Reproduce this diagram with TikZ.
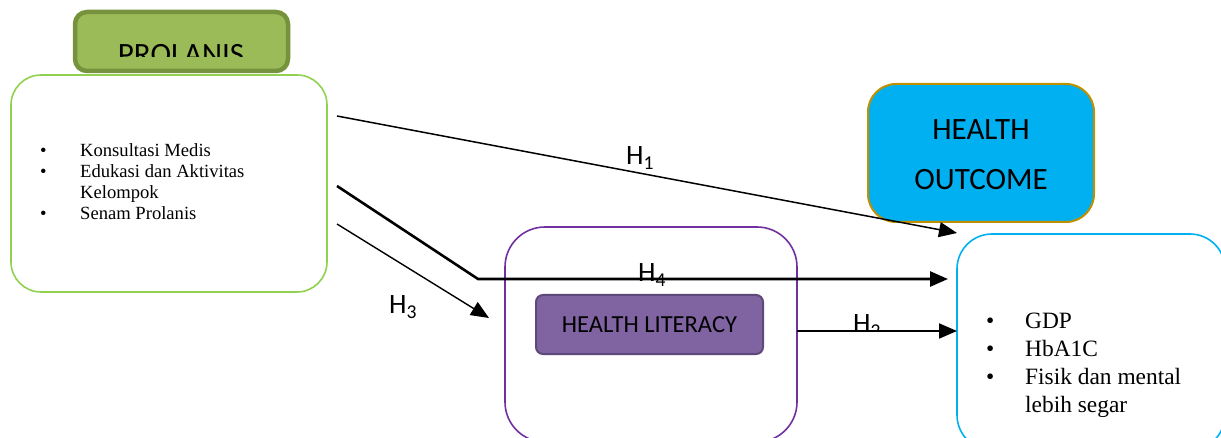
\documentclass[tikz,border=0pt]{standalone}
\usepackage{fontspec}
\setmainfont{Liberation Serif}
\newfontfamily\carfont{Carlito}
\usetikzlibrary{arrows.meta,calc}
\definecolor{prolfill}{HTML}{9BBB59}
\definecolor{prolline}{HTML}{76923C}
\definecolor{prolbox}{HTML}{92D050}
\definecolor{hlline}{HTML}{7030A0}
\definecolor{hlfill}{HTML}{8064A2}
\definecolor{hldark}{HTML}{5F497A}
\definecolor{hofill}{HTML}{00B0F0}
\definecolor{hogold}{HTML}{BF9000}
\tikzset{
  box/.style={rectangle, inner sep=0pt},
  hyp/.style={font=\carfont\fontsize{28}{30}\selectfont, inner sep=0pt, anchor=base west},
  link/.style={draw=black, -{Triangle[length=18pt,width=15pt]}},
  serifsmall/.style={font=\fontsize{18.6}{20.7}\selectfont, inner sep=0pt, anchor=base west, align=left},
  seriflarge/.style={font=\fontsize{23.4}{27.7}\selectfont, inner sep=0pt, anchor=base west, align=left}
}
\begin{document}
\begin{tikzpicture}[x=1pt,y=-1pt]
\useasboundingbox (0,0) rectangle (1221,438);
% PROLANIS header
\node[box, draw=prolline, fill=prolfill, line width=4.5pt, rounded corners=12pt,
      minimum width=213pt, minimum height=59pt] (prol) at (181.5,41.5) {};
\begin{scope}
  \clip (70,0) rectangle (300,57);
  \node[font=\carfont\fontsize{31}{33}\selectfont, inner sep=0pt, anchor=base] (prolt) at (181,65) {PROLANIS};
\end{scope}
% Prolanis content box
\node[box, draw=prolbox, fill=white, line width=1.6pt, rounded corners=30pt,
      minimum width=316pt, minimum height=217pt] (prolc) at (169,183.5) {};
\node[serifsmall] (prolb) at (40,157) {%
  \begin{tabular}[t]{@{}p{40pt}@{}l@{}}
  • & Konsultasi Medis\\
  • & Edukasi dan Aktivitas\\
    & Kelompok\\
  • & Senam Prolanis
  \end{tabular}};
% Health literacy outer and inner
\node[box, draw=hlline, fill=white, line width=1.6pt, rounded corners=40pt,
      minimum width=292pt, minimum height=215pt] (hlo) at (651,334.5) {};
\node[box, draw=hldark, fill=hlfill, line width=2pt, rounded corners=7pt,
      minimum width=227pt, minimum height=59pt, font=\carfont\fontsize{24.5}{26}\selectfont] (hl) at (649.5,324.5) {HEALTH LITERACY};
% Health outcome header
\node[box, draw=hogold, fill=hofill, line width=2pt, rounded corners=28pt,
      minimum width=226pt, minimum height=138pt] (ho) at (981,153) {};
\node[font=\carfont\fontsize{31}{50}\selectfont, align=center, inner sep=0pt] (hot) at (981,155) {HEALTH\\OUTCOME};
% Health outcome content box
\node[box, draw=hofill, fill=white, line width=1.6pt, rounded corners=35pt,
      minimum width=268pt, minimum height=216pt] (hoc) at (1091,342) {};
\node[seriflarge] (hob) at (986,329) {%
  \begin{tabular}[t]{@{}p{39pt}@{}l@{}}
  • & GDP\\
  • & HbA1C\\
  • & Fisik dan mental\\
    & lebih segar
  \end{tabular}};
% connectors
\coordinate (h1s) at (337,116);
\coordinate (h1e) at (957,233);
\coordinate (h4s) at (337,186);
\coordinate (h4k) at (478,279);
\coordinate (h4e) at (948,279);
\coordinate (h3s) at (337,224);
\coordinate (h3e) at (489,318);
\coordinate (h2s) at (797,331);
\coordinate (h2e) at (957,331);
\draw[link, line width=1.5pt] (h1s) -- (h1e);
\draw[link, line width=2.6pt] (h4s) -- (h4k) -- (h4e);
\draw[link, line width=1.4pt] (h3s) -- (h3e);
\draw[link, line width=2pt] (h2s) -- (h2e);
% labels
\node[hyp] (lh1) at (626,165) {H\textsubscript{1}};
\node[hyp] (lh4) at (638,282) {H\textsubscript{4}};
\node[hyp] (lh3) at (389,314) {H\textsubscript{3}};
\begin{scope}
  \clip (840,300) rectangle (900,329.5);
  \node[hyp] (lh2) at (853,333) {H\textsubscript{2}};
\end{scope}
\end{tikzpicture}
\end{document}
